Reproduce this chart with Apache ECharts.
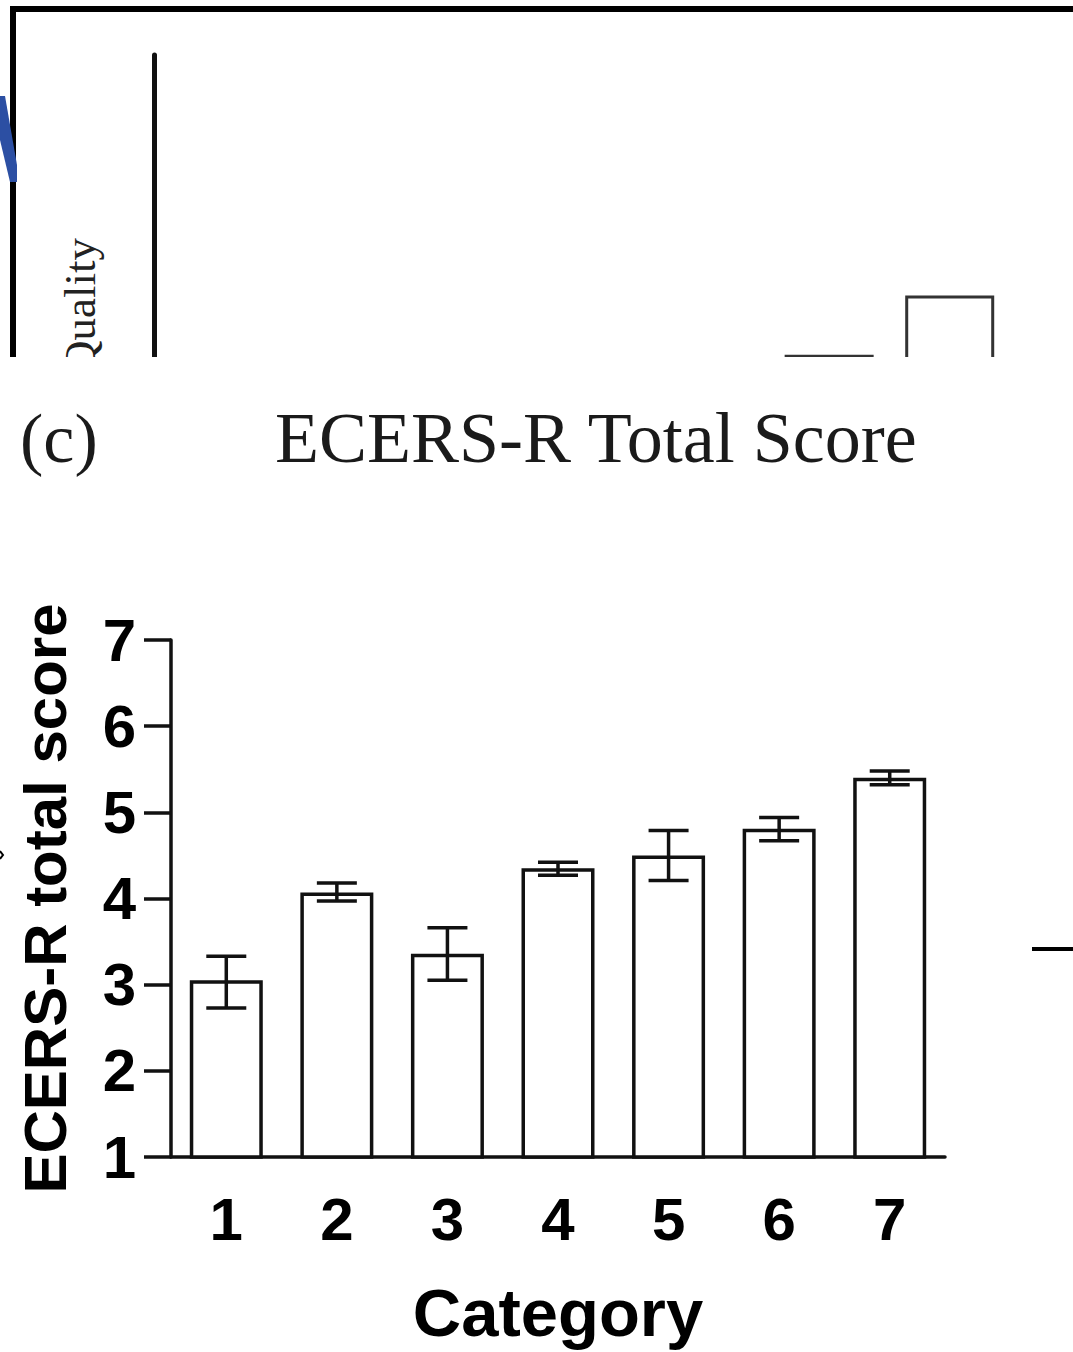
<!DOCTYPE html>
<html>
<head>
<meta charset="utf-8">
<script src="https://cdn.jsdelivr.net/npm/echarts@6/dist/echarts.min.js"></script>
<style>
html,body{margin:0;padding:0;background:#fff}
#chart{width:1073px;height:1352px}
</style>
</head>
<body>
<div id="chart"></div>
<script>
// panel (c) - ECERS-R total score by category
const categories = ['1', '2', '3', '4', '5', '6', '7'];
const meanScore = [3.05, 4.07, 3.36, 4.35, 4.50, 4.81, 5.40];
const errLow = [2.73, 3.97, 3.05, 4.27, 4.21, 4.67, 5.32];
const errHigh = [3.33, 4.18, 3.66, 4.42, 4.79, 4.94, 5.48];
const yTicks = [1, 2, 3, 4, 5, 6, 7];

// cropped panel above it: only bars 6 and 7 reach into the visible strip
const qualityScore = [null, null, null, null, null, 4.07, 4.65];
const qualityRange = [4, 7];

const sans = 'Liberation Sans';
const serif = 'Liberation Serif';
const ink = '#111';

let chart = echarts.init(document.getElementById('chart'), null, {renderer: 'svg'});

//error bar: vertical stem + two caps
function renderErrorBar(params, api) {
    const i = api.value(0);
    const hi = api.coord([i, api.value(2)]);
    const lo = api.coord([i, api.value(1)]);
    const half = 20;
    const style = {stroke: ink, lineWidth: 3.5};
    return {
        type: 'group',
        children: [
            {type: 'line', shape: {x1: hi[0], y1: hi[1], x2: lo[0], y2: lo[1]}, style: style},
            {type: 'line', shape: {x1: hi[0] - half, y1: hi[1], x2: hi[0] + half, y2: hi[1]}, style: style},
            {type: 'line', shape: {x1: lo[0] - half, y1: lo[1], x2: lo[0] + half, y2: lo[1]}, style: style}
        ]
    };
}

let option = {
    animation: false,
    backgroundColor: '#fff',
    title: [
        {text: '(c)', left: 20, top: 403, padding: 0,
            textStyle: {fontFamily: serif, fontSize: 70, fontWeight: 'normal', color: '#1a1a1a'}},
        {text: 'ECERS-R Total Score', left: 275, top: 402, padding: 0,
            textStyle: {fontFamily: serif, fontSize: 72, fontWeight: 'normal', color: '#1a1a1a'}}
    ],
    grid: [
        {left: 171, right: 128, top: 640, bottom: 195},
        {left: 166, right: 63, top: 55, bottom: 990}
    ],
    xAxis: [
        {
            type: 'category', gridIndex: 0, data: categories,
            axisLine: {lineStyle: {color: ink, width: 3.5}},
            axisTick: {alignWithLabel: true, length: 26, lineStyle: {color: ink, width: 3.5}},
            axisLabel: {margin: 32, fontFamily: sans, fontWeight: 'bold', fontSize: 60, color: '#000'},
            name: 'Category', nameLocation: 'middle', nameGap: 122,
            nameTextStyle: {fontFamily: sans, fontWeight: 'bold', fontSize: 67, color: '#000'}
        },
        {type: 'category', gridIndex: 1, data: categories, show: false}
    ],
    yAxis: [
        {
            type: 'value', gridIndex: 0,
            min: yTicks[0], max: yTicks[yTicks.length - 1], interval: 1,
            splitLine: {show: false},
            axisLine: {show: true, lineStyle: {color: ink, width: 3.5}},
            axisTick: {show: true, length: 27, lineStyle: {color: ink, width: 3.5}},
            axisLabel: {margin: 35, fontFamily: sans, fontWeight: 'bold', fontSize: 60, color: '#000'},
            name: 'ECERS-R total score', nameLocation: 'middle', nameGap: 96, nameRotate: 90,
            nameTextStyle: {fontFamily: sans, fontWeight: 'bold', fontSize: 60, color: '#000'}
        },
        {
            type: 'value', gridIndex: 1, min: qualityRange[0], max: qualityRange[1], offset: 12,
            splitLine: {show: false},
            axisLine: {show: true, lineStyle: {color: ink, width: 5}},
            axisTick: {show: false},
            axisLabel: {show: false}
        }
    ],
    series: [
        {
            type: 'bar', xAxisIndex: 0, yAxisIndex: 0, data: meanScore, barWidth: 73,
            itemStyle: {color: '#fff', borderColor: ink, borderWidth: 3.5}
        },
        {
            type: 'custom', xAxisIndex: 0, yAxisIndex: 0, z: 5,
            renderItem: renderErrorBar,
            encode: {x: 0, y: [1, 2]},
            data: categories.map((c, i) => [i, errLow[i], errHigh[i]])
        },
        {
            type: 'bar', xAxisIndex: 1, yAxisIndex: 1, data: qualityScore, barWidth: 89,
            itemStyle: {color: '#fff', borderColor: '#333', borderWidth: 3}
        }
    ],
    graphic: [
        {type: 'polyline', z: 10, shape: {points: [[13, 357], [13, 9], [1090, 9]]},
            style: {stroke: '#000', lineWidth: 6, fill: null}},
        {type: 'polygon', z: 11, shape: {points: [[0, 96], [5, 96], [17, 165], [17, 182], [10, 182], [0, 140]]},
            style: {fill: '#2c4fa3'}},
        {type: 'text', z: 10, x: 80, y: 238, rotation: Math.PI / 2,
            style: {text: 'Quality', font: '45px "Liberation Serif"', fill: '#222', align: 'right', verticalAlign: 'middle'}},
        //the lower panel is pasted over the upper one from here down
        {type: 'rect', z: 100, shape: {x: 0, y: 357, width: 1073, height: 40}, style: {fill: '#fff'}},
        {type: 'rect', z: 10, shape: {x: 1032, y: 947, width: 41, height: 4}, style: {fill: '#000'}},
        {type: 'polyline', z: 10, shape: {points: [[0, 851], [3, 855], [0, 859]]},
            style: {stroke: '#000', lineWidth: 2, fill: null}}
    ]
};
chart.setOption(option);

window.onresize = function () {
    chart.resize();
};
</script>
</body>
</html>
